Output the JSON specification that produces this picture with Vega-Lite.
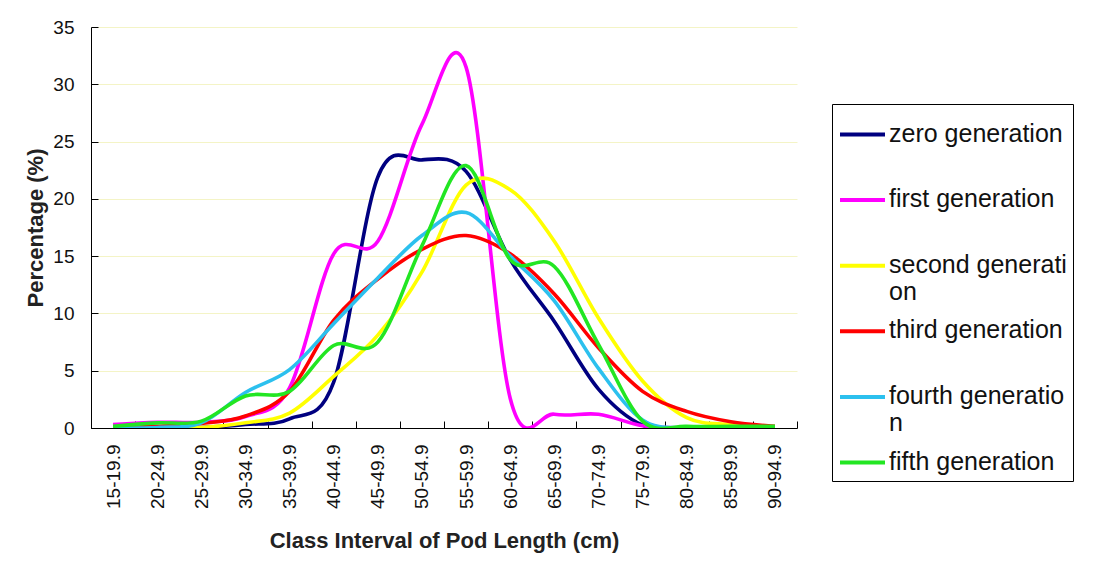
{
  "$schema": "https://vega.github.io/schema/vega-lite/v6.json",
  "width": 706,
  "height": 401,
  "autosize": {"type": "none"},
  "padding": {"left": 91, "top": 27, "right": 318, "bottom": 158},
  "background": "white",
  "datasets": {
    "pods": [
      {"c": "15-19.9", "g": "zero generation", "v": 0},
      {"c": "20-24.9", "g": "zero generation", "v": 0},
      {"c": "25-29.9", "g": "zero generation", "v": 0.05},
      {"c": "30-34.9", "g": "zero generation", "v": 0.3},
      {"c": "35-39.9", "g": "zero generation", "v": 0.8},
      {"c": "40-44.9", "g": "zero generation", "v": 4.0},
      {"c": "45-49.9", "g": "zero generation", "v": 21.9},
      {"c": "50-54.9", "g": "zero generation", "v": 23.4},
      {"c": "55-59.9", "g": "zero generation", "v": 22.4},
      {"c": "60-64.9", "g": "zero generation", "v": 14.7},
      {"c": "65-69.9", "g": "zero generation", "v": 9.3},
      {"c": "70-74.9", "g": "zero generation", "v": 3.4},
      {"c": "75-79.9", "g": "zero generation", "v": 0.25},
      {"c": "80-84.9", "g": "zero generation", "v": 0},
      {"c": "85-89.9", "g": "zero generation", "v": 0},
      {"c": "90-94.9", "g": "zero generation", "v": 0},

      {"c": "15-19.9", "g": "first generation", "v": 0.3},
      {"c": "20-24.9", "g": "first generation", "v": 0.5},
      {"c": "25-29.9", "g": "first generation", "v": 0.5},
      {"c": "30-34.9", "g": "first generation", "v": 1.0},
      {"c": "35-39.9", "g": "first generation", "v": 3.5},
      {"c": "40-44.9", "g": "first generation", "v": 15.2},
      {"c": "45-49.9", "g": "first generation", "v": 16.3},
      {"c": "50-54.9", "g": "first generation", "v": 26.5},
      {"c": "55-59.9", "g": "first generation", "v": 31.5},
      {"c": "60-64.9", "g": "first generation", "v": 2.6},
      {"c": "65-69.9", "g": "first generation", "v": 1.2},
      {"c": "70-74.9", "g": "first generation", "v": 1.2},
      {"c": "75-79.9", "g": "first generation", "v": 0.2},
      {"c": "80-84.9", "g": "first generation", "v": 0},
      {"c": "85-89.9", "g": "first generation", "v": 0},
      {"c": "90-94.9", "g": "first generation", "v": 0},

      {"c": "15-19.9", "g": "second generation", "v": 0},
      {"c": "20-24.9", "g": "second generation", "v": 0},
      {"c": "25-29.9", "g": "second generation", "v": 0.05},
      {"c": "30-34.9", "g": "second generation", "v": 0.45},
      {"c": "35-39.9", "g": "second generation", "v": 1.3},
      {"c": "40-44.9", "g": "second generation", "v": 4.5},
      {"c": "45-49.9", "g": "second generation", "v": 8.1},
      {"c": "50-54.9", "g": "second generation", "v": 13.6},
      {"c": "55-59.9", "g": "second generation", "v": 21.2},
      {"c": "60-64.9", "g": "second generation", "v": 20.8},
      {"c": "65-69.9", "g": "second generation", "v": 16.3},
      {"c": "70-74.9", "g": "second generation", "v": 9.6},
      {"c": "75-79.9", "g": "second generation", "v": 4.1},
      {"c": "80-84.9", "g": "second generation", "v": 0.9},
      {"c": "85-89.9", "g": "second generation", "v": 0.3},
      {"c": "90-94.9", "g": "second generation", "v": 0.05},

      {"c": "15-19.9", "g": "third generation", "v": 0.05},
      {"c": "20-24.9", "g": "third generation", "v": 0.15},
      {"c": "25-29.9", "g": "third generation", "v": 0.4},
      {"c": "30-34.9", "g": "third generation", "v": 1.05},
      {"c": "35-39.9", "g": "third generation", "v": 3.2},
      {"c": "40-44.9", "g": "third generation", "v": 9.4},
      {"c": "45-49.9", "g": "third generation", "v": 13.0},
      {"c": "50-54.9", "g": "third generation", "v": 15.6},
      {"c": "55-59.9", "g": "third generation", "v": 16.8},
      {"c": "60-64.9", "g": "third generation", "v": 15.2},
      {"c": "65-69.9", "g": "third generation", "v": 11.7},
      {"c": "70-74.9", "g": "third generation", "v": 7.0},
      {"c": "75-79.9", "g": "third generation", "v": 3.2},
      {"c": "80-84.9", "g": "third generation", "v": 1.45},
      {"c": "85-89.9", "g": "third generation", "v": 0.55},
      {"c": "90-94.9", "g": "third generation", "v": 0.15},

      {"c": "15-19.9", "g": "fourth generation", "v": 0},
      {"c": "20-24.9", "g": "fourth generation", "v": 0.05},
      {"c": "25-29.9", "g": "fourth generation", "v": 0.45},
      {"c": "30-34.9", "g": "fourth generation", "v": 3.1},
      {"c": "35-39.9", "g": "fourth generation", "v": 5.1},
      {"c": "40-44.9", "g": "fourth generation", "v": 9.1},
      {"c": "45-49.9", "g": "fourth generation", "v": 13.1},
      {"c": "50-54.9", "g": "fourth generation", "v": 16.8},
      {"c": "55-59.9", "g": "fourth generation", "v": 18.8},
      {"c": "60-64.9", "g": "fourth generation", "v": 15.0},
      {"c": "65-69.9", "g": "fourth generation", "v": 11.1},
      {"c": "70-74.9", "g": "fourth generation", "v": 5.2},
      {"c": "75-79.9", "g": "fourth generation", "v": 0.7},
      {"c": "80-84.9", "g": "fourth generation", "v": 0},
      {"c": "85-89.9", "g": "fourth generation", "v": 0},
      {"c": "90-94.9", "g": "fourth generation", "v": 0},

      {"c": "15-19.9", "g": "fifth generation", "v": 0.15},
      {"c": "20-24.9", "g": "fifth generation", "v": 0.45},
      {"c": "25-29.9", "g": "fifth generation", "v": 0.6},
      {"c": "30-34.9", "g": "fifth generation", "v": 2.8},
      {"c": "35-39.9", "g": "fifth generation", "v": 3.2},
      {"c": "40-44.9", "g": "fifth generation", "v": 7.2},
      {"c": "45-49.9", "g": "fifth generation", "v": 7.5},
      {"c": "50-54.9", "g": "fifth generation", "v": 15.9},
      {"c": "55-59.9", "g": "fifth generation", "v": 22.9},
      {"c": "60-64.9", "g": "fifth generation", "v": 14.7},
      {"c": "65-69.9", "g": "fifth generation", "v": 14.1},
      {"c": "70-74.9", "g": "fifth generation", "v": 7.3},
      {"c": "75-79.9", "g": "fifth generation", "v": 0.6},
      {"c": "80-84.9", "g": "fifth generation", "v": 0.15},
      {"c": "85-89.9", "g": "fifth generation", "v": 0.15},
      {"c": "90-94.9", "g": "fifth generation", "v": 0.15}
    ]
  },
  "data": {"name": "pods"},
  "mark": {"type": "line", "interpolate": "cardinal", "strokeWidth": 3.6, "clip": true},
  "encoding": {
    "x": {
      "field": "c",
      "type": "nominal",
      "sort": null,
      "bandPosition": 0.5,
      "scale": {"type": "band", "paddingInner": 0, "paddingOuter": 0},
      "axis": {
        "title": "Class Interval of Pod Length (cm)",
        "labelAngle": 270,
        "labelFont": "Liberation Sans",
        "labelFontSize": 19,
        "labelColor": "#111111",
        "labelPadding": 23,
        "labelLimit": 300,
        "tickSize": -7,
        "tickBand": "extent",
        "tickColor": "#000000",
        "domainColor": "#000000",
        "grid": false,
        "titleFont": "Liberation Sans",
        "titleFontSize": 22,
        "titleFontWeight": "bold",
        "titleColor": "#222222",
        "titlePadding": 22
      }
    },
    "y": {
      "field": "v",
      "type": "quantitative",
      "scale": {"domain": [0, 35], "nice": false},
      "axis": {
        "title": "Percentage (%)",
        "values": [0, 5, 10, 15, 20, 25, 30, 35],
        "labelFont": "Liberation Sans",
        "labelFontSize": 19,
        "labelColor": "#111111",
        "labelPadding": 24,
        "tickSize": -7,
        "tickColor": "#000000",
        "domainColor": "#000000",
        "grid": true,
        "gridColor": "#f4f4c6",
        "gridWidth": 1,
        "titleFont": "Liberation Sans",
        "titleFontSize": 22,
        "titleFontWeight": "bold",
        "titleColor": "#222222",
        "titlePadding": 5
      }
    },
    "color": {
      "field": "g",
      "type": "nominal",
      "sort": null,
      "scale": {
        "domain": ["zero generation", "first generation", "second generation", "third generation", "fourth generation", "fifth generation"],
        "range": ["#000080", "#ff00ff", "#ffff00", "#ff0000", "#2cc0ee", "#22e622"]
      },
      "legend": {
        "orient": "none",
        "legendX": 741,
        "legendY": 77,
        "title": null,
        "symbolType": "stroke",
        "symbolSize": 2025,
        "symbolStrokeWidth": 4,
        "labelFont": "Liberation Sans",
        "labelFontSize": 25,
        "labelColor": "#111111",
        "labelLimit": 400,
        "labelOffset": 2,
        "labelBaseline": "alphabetic",
        "labelLineHeight": 32,
        "labelExpr": "datum.label == 'second generation' ? ['second generati', 'on'] : datum.label == 'fourth generation' ? ['fourth generatio', 'n'] : datum.label",
        "gridAlign": "all",
        "rowPadding": 1.6,
        "padding": 6,
        "strokeColor": "#000000",
        "fillColor": "#ffffff",
        "cornerRadius": 0,
        "encode": {"labels": {"update": {"dy": {"value": 7}}}}
      }
    }
  },
  "config": {
    "view": {"stroke": null},
    "font": "Liberation Sans"
  }
}
